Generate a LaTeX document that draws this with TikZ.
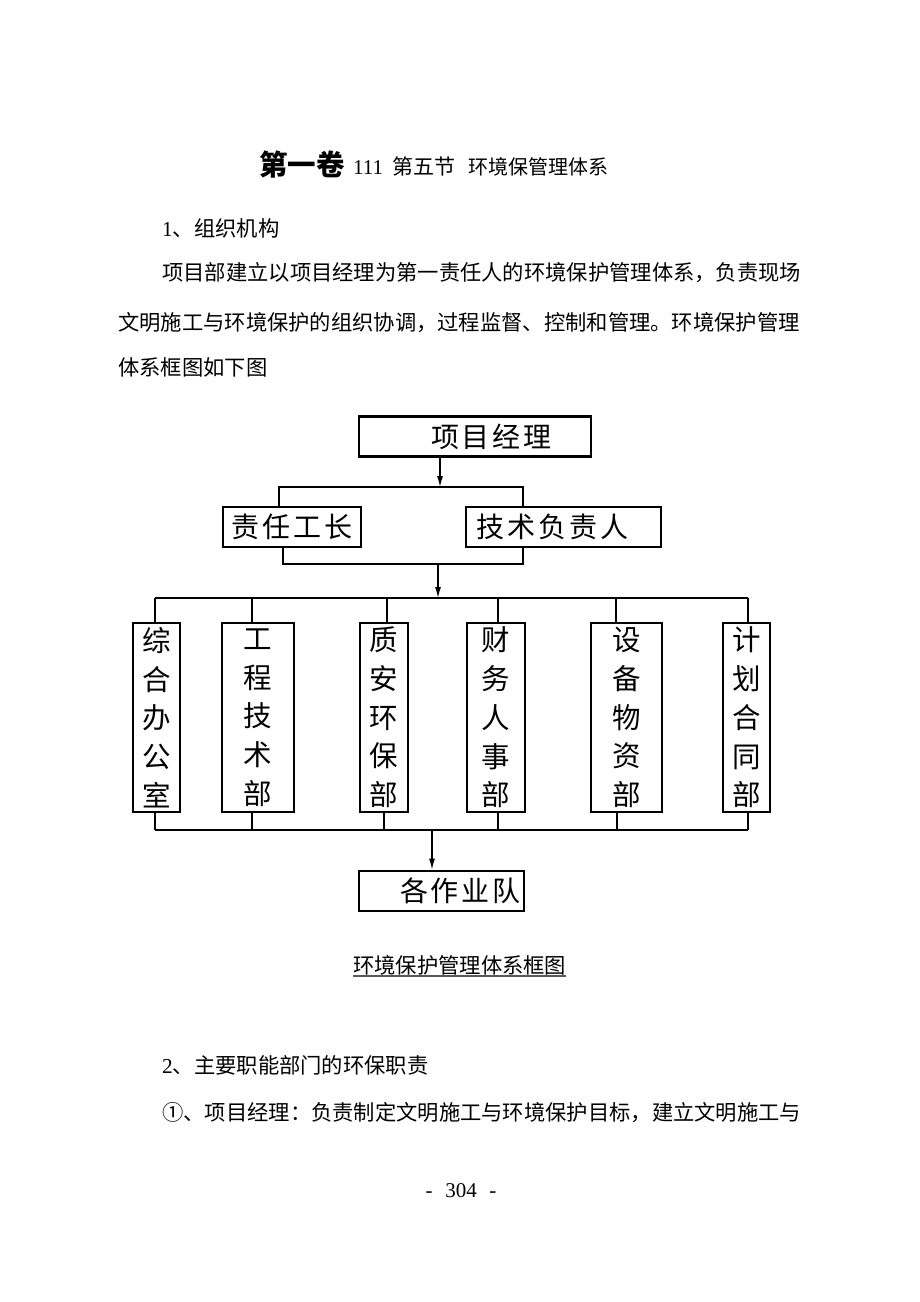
\documentclass[tikz,border=0pt]{standalone}
\usepackage{fontspec}
\setmainfont{Liberation Serif}
\newfontfamily\cjk{Noto Sans CJK SC}
\usetikzlibrary{arrows.meta}
\begin{document}
\begin{tikzpicture}[x=1pt,y=-1pt,
  txt/.style={inner sep=0pt, anchor=base west, font=\cjk\fontsize{21.3}{21.3}\selectfont},
  hbox/.style={draw, line width=2.6pt, inner sep=0pt, minimum height=40pt, font=\cjk\fontsize{28}{28}\selectfont},
  vbox/.style={draw, line width=2.6pt, inner sep=0pt, minimum height=189pt, align=center, font=\cjk\fontsize{28.5}{38.7}\selectfont},
  conn/.style={line width=1.3pt},
  arr/.style={conn, -{Latex[length=11pt,width=6pt]}}]
\useasboundingbox[fill=white] (0,0) rectangle (920,1302);

% title
\node[txt, font=\cjk\bfseries\fontsize{28.5}{28.5}\selectfont] (t1) at (259,175) {第一卷};
\node[txt, font=\rmfamily\fontsize{21}{21}\selectfont] (t2) at (353,174) {111};
\node[txt, font=\cjk\fontsize{21}{21}\selectfont] (t3) at (392,174) {第五节};
\node[txt, font=\cjk\fontsize{20}{20}\selectfont] (t4) at (468,174) {环境保管理体系};

% body text
\node[txt] (h1) at (162,236) {{\rmfamily 1}、组织机构};
\node[txt] (p1) at (162,280) {项目部建立以项目经理为第一责任人的环境保护管理体系，负责现场};
\node[txt] (p2) at (118,330) {文明施工与环境保护的组织协调，过程监督、控制和管理。环境保护管理};
\node[txt] (p3) at (118,375) {体系框图如下图};

% diagram
\node[hbox, minimum width=232pt] (pm) at (475,436.5) {\hspace*{33pt}项\kern3pt 目\kern3pt 经\kern3pt 理};
\node[hbox, minimum width=138pt] (zr) at (292,527) {责\kern3pt 任\kern3pt 工\kern3pt 长};
\node[hbox, minimum width=195pt] (js) at (563.5,527) {技\kern3pt 术\kern3pt 负\kern3pt 责\kern3pt 人\hspace*{22pt}};

\node[vbox, minimum width=47pt] (d1) at (156.5,717.5) {综\\合\\办\\公\\室};
\node[vbox, minimum width=72pt] (d2) at (258,717.5) {工\\程\\技\\术\\部};
\node[vbox, minimum width=48pt] (d3) at (384,717.5) {质\\安\\环\\保\\部};
\node[vbox, minimum width=58pt] (d4) at (496,717.5) {财\\务\\人\\事\\部};
\node[vbox, minimum width=71pt] (d5) at (626.5,717.5) {设\\备\\物\\资\\部};
\node[vbox, minimum width=47pt] (d6) at (746.5,717.5) {计\\划\\合\\同\\部};

\node[hbox, minimum width=165pt] (zy) at (441.5,891) {\hspace*{38pt}各\kern3pt 作\kern3pt 业\kern3pt 队};

% connectors
\coordinate (b0) at (440,487);
\coordinate (bL) at (279,487);
\coordinate (bR) at (523,487);
\draw[arr] (pm.south -| b0) -- (b0);
\draw[conn] (zr.north -| bL) -- (bL) -- (bR) -- (js.north -| bR);

\coordinate (jL) at (283,564);
\coordinate (jR) at (523,564);
\coordinate (j0) at (438,564);
\coordinate (u0) at (438,598);
\draw[conn] (zr.south -| jL) -- (jL) -- (jR) -- (js.south -| jR);
\draw[arr] (j0) -- (u0);

\coordinate (uL) at (155,598);
\coordinate (uR) at (748,598);
\draw[conn] (uL) -- (uR);
\draw[conn] (uL) -- (d1.north -| uL);
\draw[conn] (d2.north -| 252,0) -- (252,598);
\draw[conn] (d3.north -| 387,0) -- (387,598);
\draw[conn] (d4.north -| 498,0) -- (498,598);
\draw[conn] (d5.north -| 616,0) -- (616,598);
\draw[conn] (uR) -- (d6.north -| uR);

\coordinate (lL) at (155,830);
\coordinate (lR) at (748,830);
\coordinate (l0) at (432,830);
\draw[conn] (lL) -- (lR);
\draw[conn] (lL) -- (d1.south -| lL);
\draw[conn] (d2.south -| 252,0) -- (252,830);
\draw[conn] (d3.south -| 384,0) -- (384,830);
\draw[conn] (d4.south -| 498,0) -- (498,830);
\draw[conn] (d5.south -| 617,0) -- (617,830);
\draw[conn] (lR) -- (d6.south -| lR);
\draw[arr] (l0) -- (zy.north -| l0);

% caption
\node[txt] (cap) at (353,973) {环境保护管理体系框图};
\draw[line width=1.2pt, gray!70!black] ([yshift=-3pt]cap.base west) -- ([yshift=-3pt]cap.base east);

\node[txt] (h2) at (162,1073) {{\rmfamily 2}、主要职能部门的环保职责};
\node[txt] (p4) at (162,1120) {①、项目经理：负责制定文明施工与环境保护目标，建立文明施工与};

\node[inner sep=0pt, anchor=base, font=\rmfamily\fontsize{21}{21}\selectfont] (pg) at (461,1197) {-\hspace{0.6em}304\hspace{0.6em}-};
\end{tikzpicture}
\end{document}
